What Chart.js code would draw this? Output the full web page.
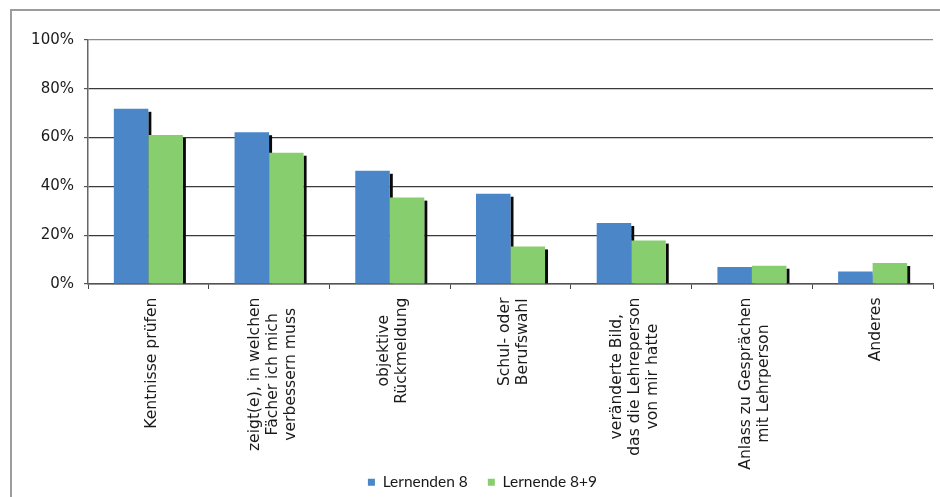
<!DOCTYPE html>
<html>
<head>
<meta charset="utf-8">
<script src="https://cdn.jsdelivr.net/npm/chart.js@4"></script>
<style>
html,body{margin:0;padding:0;background:#fff;overflow:hidden;}
#wrap{position:absolute;left:0;top:0;width:940px;height:500px;}
</style>
</head>
<body>
<div id="wrap"><canvas id="c" width="940" height="500"></canvas></div>
<script>
const categories = [
  ["Kentnisse prüfen"],
  ["zeigt(e), in welchen", "Fächer ich mich", "verbessern muss"],
  ["objektive", "Rückmeldung"],
  ["Schul- oder", "Berufswahl"],
  ["veränderte Bild,", "das die Lehreperson", "von mir hatte"],
  ["Anlass zu Gesprächen", "mit Lehrperson"],
  ["Anderes"]
];
const seriesNames = ["Lernenden 8", "Lernende 8+9"];
const lernenden8 = [71.8, 62.2, 46.4, 37.0, 25.0, 7.0, 5.1];
const lernende89 = [61.1, 53.8, 35.4, 15.4, 17.8, 7.5, 8.6];
const yTicks = [0, 20, 40, 60, 80, 100];

const labelFont = '15.6px "DejaVu Sans"';

const framePlugin = {
  id: 'frame',
  beforeDraw(chart) {
    const ctx = chart.ctx;
    ctx.save();
    ctx.strokeStyle = '#9c9c9c';
    ctx.lineWidth = 2;
    ctx.strokeRect(11, 10, 1200, 1200);
    ctx.restore();
  }
};

// dark drop-shadow strip on the right side of every bar, drawn beneath all bars
const shadowPlugin = {
  id: 'barShadow',
  beforeDatasetsDraw(chart) {
    const ctx = chart.ctx;
    ctx.save();
    ctx.fillStyle = '#0a0a0a';
    chart.data.datasets.forEach((d, i) => {
      const meta = chart.getDatasetMeta(i);
      meta.data.forEach(bar => {
        const p = bar.getProps(['x', 'y', 'width', 'base'], true);
        const h = p.base - p.y - 3;
        if (h > 0) ctx.fillRect(p.x + p.width / 2, p.y + 3, 3, h);
      });
    });
    ctx.restore();
  }
};

const catLabelPlugin = {
  id: 'catLabels',
  afterDraw(chart) {
    const ctx = chart.ctx;
    const xs = chart.scales.x;
    const lh = 18;
    const topY = xs.top + 13.5;
    ctx.save();
    ctx.font = labelFont;
    ctx.fillStyle = '#1a1a1a';
    ctx.textAlign = 'center';
    ctx.textBaseline = 'middle';
    categories.forEach((lines, i) => {
      const x = xs.getPixelForValue(i) + 3.5;
      let w = 0;
      lines.forEach(l => { w = Math.max(w, ctx.measureText(l).width); });
      const cy = topY + w / 2;
      ctx.save();
      ctx.translate(x, cy);
      ctx.rotate(-Math.PI / 2);
      const n = lines.length;
      lines.forEach((l, j) => {
        ctx.fillText(l, 0, (j - (n - 1) / 2) * lh);
      });
      ctx.restore();
    });
    ctx.restore();
  }
};

new Chart(document.getElementById('c'), {
  type: 'bar',
  data: {
    labels: categories,
    datasets: [
      { label: seriesNames[0], data: lernenden8, backgroundColor: '#4a86c8', borderWidth: 0 },
      { label: seriesNames[1], data: lernende89, backgroundColor: '#86ce6e', borderWidth: 0 }
    ]
  },
  options: {
    responsive: false,
    animation: false,
    events: [],
    datasets: { bar: { categoryPercentage: 0.572, barPercentage: 1.0 } },
    layout: { padding: { left: 32, right: 7, top: 40, bottom: 0 } },
    plugins: {
      tooltip: { enabled: false },
      title: { display: false },
      legend: {
        position: 'bottom',
        labels: {
          boxWidth: 7,
          boxHeight: 7,
          padding: 20,
          color: '#1a1a1a',
          font: { family: 'Lato', size: 15.5 }
        }
      }
    },
    scales: {
      x: {
        offset: true,
        grid: {
          offset: true,
          drawOnChartArea: true,
          color: (c) => (c.index === categories.length ? '#b0b0b0' : 'rgba(0,0,0,0)'),
          tickColor: '#444',
          tickLength: 5
        },
        border: { display: true, color: '#555', width: 1.5 },
        ticks: { display: false },
        afterFit(scale) { scale.height = 170.5; }
      },
      y: {
        min: 0,
        max: 100,
        afterBuildTicks(scale) { scale.ticks = yTicks.map(v => ({ value: v })); },
        ticks: {
          callback: (v) => v + '%',
          color: '#1a1a1a',
          padding: 10,
          font: { family: 'DejaVu Sans', size: 15 }
        },
        grid: {
          color: (c) => (c.tick && c.tick.value === 100 ? '#8a8a8a' : '#3a3a3a'),
          lineWidth: 1.2,
          tickColor: '#555',
          tickLength: 4
        },
        border: { display: true, color: '#666', width: 1.5 },
        afterFit(scale) { scale.width = 56; }
      }
    }
  },
  plugins: [framePlugin, shadowPlugin, catLabelPlugin]
});
</script>
</body>
</html>
